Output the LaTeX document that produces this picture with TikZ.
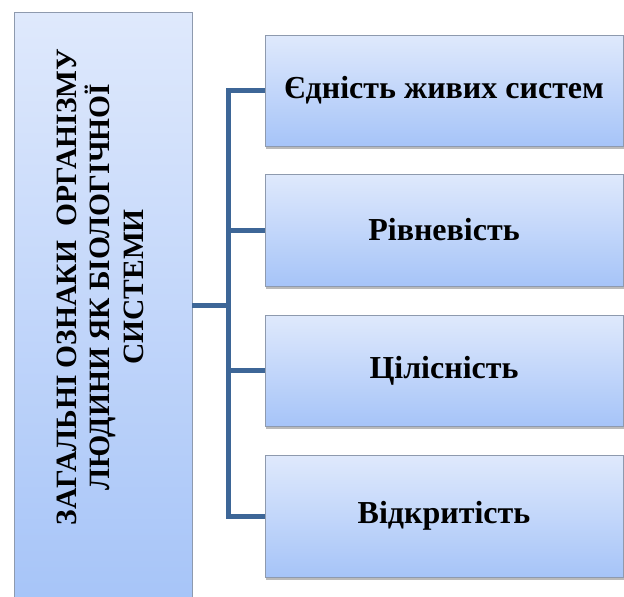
\documentclass[tikz,border=0pt]{standalone}
\usepackage{fontspec}
\setmainfont{Liberation Serif}[BoldFont={Liberation Serif Bold}]
\usetikzlibrary{shadows}
\definecolor{boxtop}{HTML}{DFE9FC}
\definecolor{boxbot}{HTML}{A6C4F8}
\definecolor{boxline}{HTML}{8E9AAE}
\definecolor{connc}{HTML}{3D6697}
\tikzset{
  bluebox/.style={draw=boxline, line width=0.8pt, top color=boxtop, bottom color=boxbot,
    inner sep=0pt, drop shadow={shadow xshift=1pt, shadow yshift=-3pt, opacity=0.45, fill=black!60}},
  itembox/.style={bluebox, minimum width=358pt, font=\fontsize{32}{38}\selectfont\bfseries},
  conn/.style={draw=connc, line width=5pt, line join=miter}
}
\begin{document}
\begin{tikzpicture}[x=1pt,y=-1pt]
\useasboundingbox (0,0) rectangle (624,597);
\node[bluebox, minimum width=178pt, minimum height=595pt] (L) at (103,309.5) {};
\node[rotate=90, align=center, font=\fontsize{29.5}{33.5}\selectfont\bfseries] (Ltext) at (100,287)
  {ЗАГАЛЬНІ ОЗНАКИ\ \ ОРГАНІЗМУ\\ЛЮДИНИ ЯК БІОЛОГІЧНОЇ\\СИСТЕМИ};
\node[itembox, minimum height=111pt] (b1) at (444,90.5) {Єдність живих систем};
\node[itembox, minimum height=112pt] (b2) at (444,230) {Рівневість};
\node[itembox, minimum height=111pt] (b3) at (444,370.5) {Цілісність};
\node[itembox, minimum height=122pt] (b4) at (444,516) {Відкритість};
\coordinate (j) at (228,305);
\draw[conn] (L.east |- j) -- (j);
\draw[conn] (b1.west) -| (j);
\draw[conn] (b2.west) -| (j);
\draw[conn] (b3.west) -| (j);
\draw[conn] (b4.west) -| (j);
\end{tikzpicture}
\end{document}
